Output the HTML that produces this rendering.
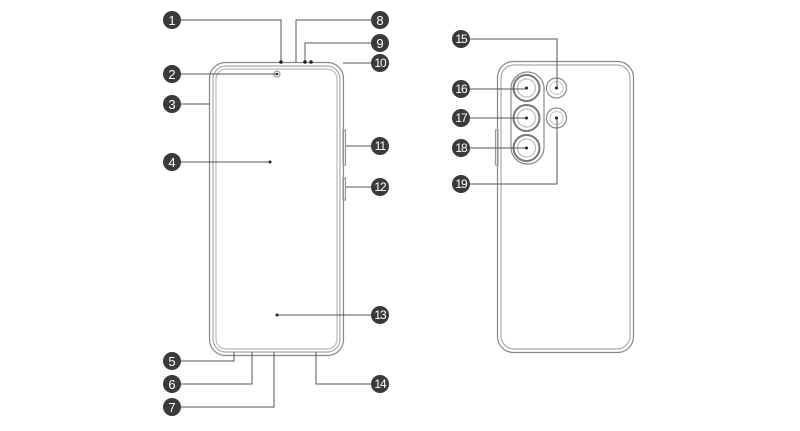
<!DOCTYPE html>
<html><head><style>
html,body{margin:0;background:#fff;}
svg{display:block;font-family:"Liberation Sans",sans-serif;}
</style></head><body>
<svg width="800" height="431" viewBox="0 0 800 431">
<g fill="none" stroke="#888" stroke-width="1.2">
<rect x="209.5" y="62.5" width="134" height="293" rx="16"/>
<rect x="213" y="66" width="127" height="286" rx="13" stroke="#aaa"/>
<rect x="216" y="69" width="121" height="280" rx="10" stroke="#bbb"/>
<rect x="343" y="130" width="2.5" height="35" stroke="#999"/>
<rect x="343" y="178" width="2.5" height="22" stroke="#999"/>
<rect x="497.5" y="61.5" width="136" height="291" rx="16"/>
<rect x="501" y="65" width="129" height="284" rx="13" stroke="#aaa"/>
<rect x="495.5" y="130" width="2.5" height="35" stroke="#999"/>
<rect x="511" y="72" width="33" height="92" rx="16.5"/>
<circle cx="526.5" cy="88" r="13" stroke="#777" stroke-width="2"/>
<circle cx="526.5" cy="118" r="13" stroke="#777" stroke-width="2"/>
<circle cx="526.5" cy="148" r="13" stroke="#777" stroke-width="2"/>
<circle cx="526.5" cy="88" r="9" stroke="#bbb"/>
<circle cx="526.5" cy="118" r="9" stroke="#bbb"/>
<circle cx="526.5" cy="148" r="9" stroke="#bbb"/>
<circle cx="556.5" cy="88" r="10"/>
<circle cx="556.5" cy="118" r="10"/>
<circle cx="556.5" cy="88" r="6.5" stroke="#ccc"/>
<circle cx="556.5" cy="118" r="6.5" stroke="#ccc"/>
<circle cx="277" cy="74" r="3" stroke="#999"/>
</g>
<g fill="none" stroke="#555" stroke-width="1">
<polyline points="180,20 281,20 281,62"/>
<polyline points="372,20 296,20 296,62"/>
<polyline points="372,43 305,43 305,62"/>
<line x1="343" y1="63" x2="372" y2="63"/>
<line x1="180" y1="74" x2="277" y2="74"/>
<line x1="180" y1="104" x2="210" y2="104"/>
<line x1="180" y1="162" x2="270" y2="162"/>
<line x1="346" y1="146" x2="372" y2="146"/>
<line x1="346" y1="187" x2="372" y2="187"/>
<line x1="277" y1="315" x2="372" y2="315"/>
<polyline points="180,361 234,361 234,352"/>
<polyline points="180,384 252,384 252,352"/>
<polyline points="180,407 274,407 274,352"/>
<polyline points="372,384 316,384 316,352"/>
<polyline points="469,39 557,39 557,88"/>
<polyline points="469,89 526,89"/>
<polyline points="469,118 526,118"/>
<polyline points="469,148 526,148"/>
<polyline points="469,184 557,184 557,118"/>
</g>
<g fill="#222">
<circle cx="281" cy="62" r="1.8"/><circle cx="305" cy="62" r="1.8"/><circle cx="311" cy="62" r="1.8"/>
<circle cx="277" cy="74" r="1.3"/><circle cx="270" cy="162" r="1.5"/><circle cx="277" cy="315" r="1.5"/>
<circle cx="526.5" cy="88" r="1.5"/><circle cx="526.5" cy="118" r="1.5"/><circle cx="526.5" cy="148" r="1.5"/>
<circle cx="556.5" cy="88" r="1.5"/><circle cx="556.5" cy="118" r="1.5"/>
</g>
<g fill="#3a3a3a">
<circle cx="172" cy="20" r="9"/><circle cx="172" cy="74" r="9"/><circle cx="172" cy="104" r="9"/><circle cx="172" cy="162" r="9"/>
<circle cx="172" cy="361" r="9"/><circle cx="172" cy="384" r="9"/><circle cx="172" cy="407" r="9"/>
<circle cx="380" cy="20" r="9"/><circle cx="380" cy="43" r="9"/><circle cx="380" cy="63" r="9"/><circle cx="380" cy="146" r="9"/>
<circle cx="380" cy="187" r="9"/><circle cx="380" cy="315" r="9"/><circle cx="380" cy="384" r="9"/>
<circle cx="461" cy="39" r="9"/><circle cx="461" cy="89" r="9"/><circle cx="461" cy="118" r="9"/><circle cx="461" cy="148" r="9"/><circle cx="461" cy="184" r="9"/>
</g>
<g fill="#fff" font-size="13" text-anchor="middle">
<text x="172" y="25">1</text><text x="172" y="79">2</text><text x="172" y="109">3</text><text x="172" y="167">4</text>
<text x="172" y="366">5</text><text x="172" y="389">6</text><text x="172" y="412">7</text>
<text x="380" y="25">8</text><text x="380" y="48">9</text>
<g font-size="12" letter-spacing="-1">
<text x="380" y="67">10</text><text x="380" y="150">11</text><text x="380" y="191">12</text><text x="380" y="319">13</text><text x="380" y="388">14</text>
<text x="461" y="43">15</text><text x="461" y="93">16</text><text x="461" y="122">17</text><text x="461" y="152">18</text><text x="461" y="188">19</text>
</g></g>
</svg>
</body></html>
